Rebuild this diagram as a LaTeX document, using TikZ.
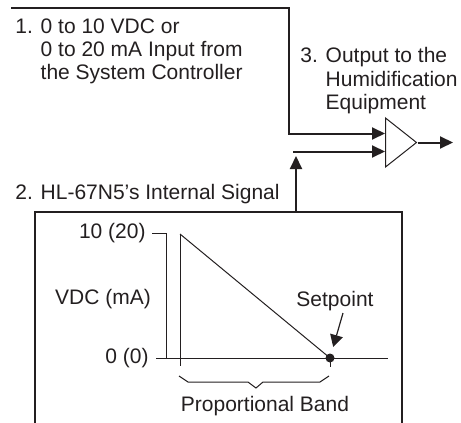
\documentclass[tikz,border=0pt]{standalone}
\usepackage{fontspec}
\setmainfont{Liberation Sans}
\usepackage{tikz}
\usetikzlibrary{arrows.meta,shapes.geometric}
\definecolor{ink}{RGB}{35,31,32}

\begin{document}
\begin{tikzpicture}[x=0.5pt,y=-0.5pt,
  lbl/.style={font=\fontsize{10.5}{11.7}\selectfont,text=ink,inner sep=0pt},
  sig/.style={line width=1pt,draw=ink},
  thin/.style={line width=0.5pt,draw=ink},
  tip/.style={-{Triangle[length=6.5pt,width=6pt]}}]
  \useasboundingbox (0,0) rectangle (461,423);
  % labels
  \node[lbl,align=left,anchor=north west] (input) at (15,18) {1. 0 to 10 VDC or\\\phantom{1. }0 to 20 mA Input from\\\phantom{1. }the System Controller};
  \node[lbl,align=left,anchor=north west] (output) at (300,47) {3. Output to the\\\phantom{3. }Humidification\\\phantom{3. }Equipment};
  \node[lbl,anchor=base west] (internal) at (15,199) {2. HL-67N5’s Internal Signal};
  % amplifier and signal lines
  \node[isosceles triangle,isosceles triangle stretches,draw=ink,line width=0.5pt,inner sep=0pt,minimum width=24.5pt,minimum height=15.5pt,anchor=lower side] (amp) at (385,142.5) {};
  \coordinate (src) at (11,8);
  \coordinate (turn) at (289,8);
  \coordinate (drop) at (289,133.5);
  \coordinate (ref) at (293,151.5);
  \coordinate (boxtop) at (296,212);
  \coordinate (reftip) at (296,156);
  \coordinate (out) at (453,142.5);
  \draw[sig,tip] (src) -- (turn) -- (drop) -- (drop -| amp.lower side);
  \draw[sig,tip] (ref) -- (ref -| amp.lower side);
  \draw[sig,tip] (boxtop) -- (reftip);
  \draw[sig,tip] (amp.apex) -- (out);
  % internal signal box
  \draw[line width=0.65pt,ink] (35,423) -- (35,212) -- (402,212) -- (402,423);
  \node[lbl,anchor=east] (ymax) at (146,233) {10 (20)};
  \node[lbl,anchor=east] (ymin) at (149,358) {0 (0)};
  \node[lbl] (unit) at (103,299) {VDC (mA)};
  \node[lbl] (spt) at (335,301) {Setpoint};
  \node[lbl] (band) at (265,406) {Proportional Band};
  \draw[thin] (152,233) -- (166,233) -- (166,358);
  \draw[thin] (156,358) -- (388,358);
  \draw[thin] (180,234) -- (180,366);
  \node[circle,fill=ink,inner sep=0pt,minimum size=4.5pt] (dot) at (330,358) {};
  \draw[thin] (180,234) -- (dot.center);
  \draw[thin] (dot.center) -- (330,367);
  \draw[thin] (179,376) -- (188,382) -- (248,382) -- (256,388) -- (263,382) -- (320,382) -- (329,376);
  \coordinate (sptfoot) at (343,313);
  \draw[line width=0.6pt,ink,-{Triangle[length=6pt,width=6.5pt]},shorten >=3.3pt] (sptfoot) -- (dot);
\end{tikzpicture}
\end{document}
